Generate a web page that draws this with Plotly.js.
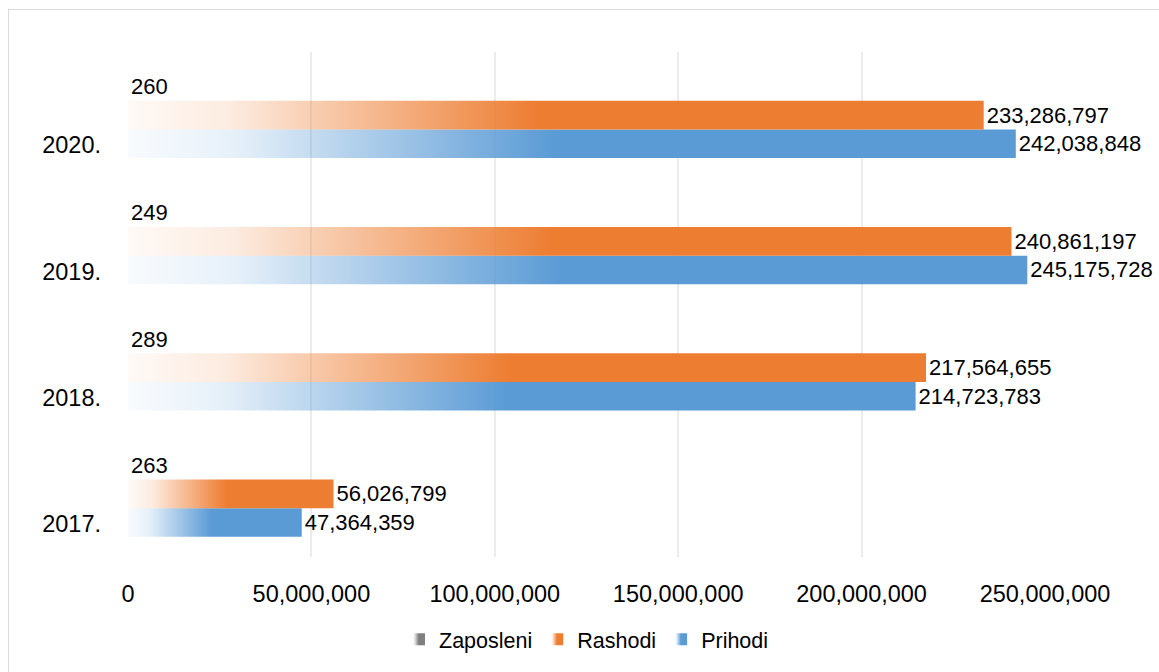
<!DOCTYPE html>
<html>
<head>
<meta charset="utf-8">
<script src="https://cdn.plot.ly/plotly-3.0.1.min.js"></script>
<style>
  html, body { margin: 0; padding: 0; background: #fff; overflow: hidden; }
  #wrap { position: relative; width: 1159px; height: 672px; overflow: hidden; }
  #chart { width: 1159px; height: 672px; }
  #frame { position: absolute; left: 8px; top: 9px; width: 1200px; height: 700px; border: 1px solid #d9d9d9; pointer-events: none; box-sizing: border-box; }
</style>
</head>
<body>
<div id="wrap"><div id="chart"></div><div id="frame"></div></div>
<script>
const categories = ['2017.', '2018.', '2019.', '2020.'];
const zaposleni = [263, 289, 249, 260];
const rashodi = [56026799, 217564655, 240861197, 233286797];
const prihodi = [47364359, 214723783, 245175728, 242038848];
const xTickVals = [0, 50000000, 100000000, 150000000, 200000000, 250000000];

const colors = { Prihodi: '#5B9BD5', Rashodi: '#ED7D31', Zaposleni: '#7F7F7F' };
const font = { family: 'Liberation Sans, Arial, sans-serif', size: 23.5, color: '#000' };
const labelFont = { family: font.family, size: 22, color: '#000' };

function barTrace(name, values, tmpl) {
  return {
    type: 'bar', orientation: 'h', name: name,
    y: categories, x: values,
    marker: { color: colors[name] },
    text: values, texttemplate: tmpl, textposition: 'outside',
    textfont: labelFont, cliponaxis: false, constraintext: 'none',
    hoverinfo: 'skip'
  };
}

const data = [
  barTrace('Prihodi', prihodi, '%{x:,}'),
  barTrace('Rashodi', rashodi, '%{x:,}'),
  barTrace('Zaposleni', zaposleni, '%{x}')
];

const layout = {
  width: 1159, height: 672,
  margin: { l: 128, r: 114, t: 52, b: 112 },
  paper_bgcolor: '#fff', plot_bgcolor: '#fff',
  font: font,
  barmode: 'group', bargap: 0.32, bargroupgap: 0,
  showlegend: true,
  legend: { orientation: 'h', traceorder: 'reversed', x: 0.5, xanchor: 'center', y: -0.163, yanchor: 'middle', font: { family: font.family, size: 21.5, color: '#000' }, itemwidth: 30 },
  xaxis: {
    range: [0, 250000000], tickvals: xTickVals, tickformat: ',',
    showgrid: true, gridcolor: '#ececec', gridwidth: 2, zeroline: false, showline: false,
    ticks: '', ticklabelstandoff: 20, tickfont: font, fixedrange: true
  },
  yaxis: {
    type: 'category', categoryorder: 'array', categoryarray: categories,
    showgrid: false, zeroline: false, showline: false, ticks: '',
    ticklabelstandoff: 26, ticklabelshift: 30, tickfont: font, fixedrange: true
  }
};

function applyGradients(gd) {
  const svg = gd.querySelector('svg.main-svg');
  if (!svg) return;
  const ns = 'http://www.w3.org/2000/svg';
  let defs = svg.querySelector('defs');
  if (!defs) { defs = document.createElementNS(ns, 'defs'); svg.insertBefore(defs, svg.firstChild); }
  const names = ['Prihodi', 'Rashodi', 'Zaposleni'];
  names.forEach(function (n) {
    const g = document.createElementNS(ns, 'linearGradient');
    g.setAttribute('id', 'grad-' + n);
    g.setAttribute('x1', '0'); g.setAttribute('y1', '0'); g.setAttribute('x2', '1'); g.setAttribute('y2', '0');
    [[0, 0.04], [0.12, 0.15], [0.48, 1], [1, 1]].forEach(function (s) {
      const st = document.createElementNS(ns, 'stop');
      st.setAttribute('offset', s[0]);
      st.setAttribute('stop-color', colors[n]);
      st.setAttribute('stop-opacity', s[1]);
      g.appendChild(st);
    });
    defs.appendChild(g);
  });
  const traces = gd.querySelectorAll('.barlayer .trace.bars');
  traces.forEach(function (tr, i) {
    const n = names[i];
    tr.querySelectorAll('.point path').forEach(function (p) {
      p.style.fill = 'url(#grad-' + n + ')';
      p.style.fillOpacity = 1;
    });
  });
  const legendTraces = gd.querySelectorAll('.legend .traces');
  legendTraces.forEach(function (lt) {
    const txt = lt.querySelector('.legendtext');
    const n = txt ? txt.textContent.trim() : null;
    if (!n || !colors[n]) return;
    lt.querySelectorAll('.legendpoints path').forEach(function (p) {
      p.style.fill = 'url(#grad-' + n + ')';
    });
  });
}

Plotly.newPlot('chart', data, layout, { displayModeBar: false, staticPlot: true }).then(applyGradients);
</script>
</body>
</html>
